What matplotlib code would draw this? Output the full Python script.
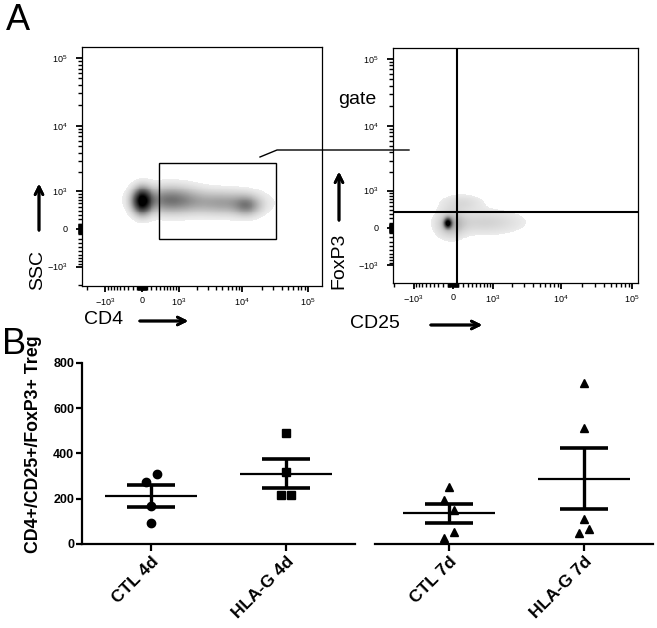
import numpy as np
import matplotlib.pyplot as plt
from matplotlib.colors import LinearSegmentedColormap
from matplotlib.lines import Line2D
from matplotlib.patches import Rectangle
from matplotlib.ticker import FixedLocator, NullFormatter

plt.rcParams['font.family'] = ['Liberation Sans', 'DejaVu Sans']
plt.rcParams['mathtext.default'] = 'regular'

LW = 600  # linear width of the biexponential display

# ---- panel A data ----
flow_ticks = [-1e3, 0, 1e3, 1e4, 1e5]
flow_ticklabels = ['$-10^3$', '0', '$10^3$', '$10^4$', '$10^5$']

cd4_lim = [-2430, 165000]
ssc_lim = [-2050, 146000]
cd25_lim = [-2065, 122000]
foxp3_lim = [-1945, 146000]

gate_cd4 = [380, 33000]
gate_ssc = [-210, 2800]

quad_cd25 = 78
quad_foxp3 = 344

# populations seen in the density plots (centre, spread in asinh units, weight)
cd4_pop_x = [0, 690, 5500, 12000]
cd4_pop_y = [660, 690, 600, 520]
cd4_pop_sx = [0.22, 0.7, 0.8, 0.3]
cd4_pop_sy = [0.28, 0.3, 0.27, 0.22]
cd4_pop_w = [1.0, 0.46, 0.3, 0.28]

cd25_pop_x = [-100, -40, 745, 176]
cd25_pop_y = [100, 80, 120, 582]
cd25_pop_sx = [0.08, 0.3, 0.8, 0.45]
cd25_pop_sy = [0.11, 0.3, 0.27, 0.2]
cd25_pop_w = [1.0, 0.22, 0.12, 0.09]

# ---- panel B data ----
groups = ['CTL 4d', 'HLA-G 4d', 'CTL 7d', 'HLA-G 7d']
ctl_4d = [273, 309, 168, 94]
hlag_4d = [489, 317, 217, 217]
ctl_7d = [253, 194, 150, 54, 25]
hlag_7d = [710, 511, 110, 50, 65]
ctl_4d_dx = [-0.037, 0.044, 0, 0]
hlag_4d_dx = [0, 0, -0.037, 0.04]
ctl_7d_dx = [0, -0.037, 0.037, 0.037, -0.04]
hlag_7d_dx = [0, 0, 0, -0.04, 0.04]
y_ticks = [0, 200, 400, 600, 800]


def flow_axis(ax, xlim, ylim):
    ax.set_xscale('asinh', linear_width=LW)
    ax.set_yscale('asinh', linear_width=LW)
    ax.set_xlim(xlim)
    ax.set_ylim(ylim)
    minors = [s * k * 10 ** j for s in (-1, 1) for j in range(1, 5) for k in range(1, 10)]
    for axis in (ax.xaxis, ax.yaxis):
        axis.set_major_locator(FixedLocator(flow_ticks))
        axis.set_minor_locator(FixedLocator(minors))
        axis.set_minor_formatter(NullFormatter())
    ax.set_xticklabels(flow_ticklabels)
    ax.set_yticklabels(flow_ticklabels)
    ax.tick_params(which='major', length=4.5, width=1.3, labelsize=6.5)
    ax.tick_params(axis='y', which='major', pad=6)
    ax.tick_params(axis='x', which='major', pad=3)
    ax.tick_params(which='minor', length=3, width=1.0)
    for s in ax.spines.values():
        s.set_linewidth(0.9)


def density(ax, xlim, ylim, px, py, sx, sy, w, lightest):
    tx = np.linspace(np.arcsinh(xlim[0] / LW), np.arcsinh(xlim[1] / LW), 500)
    ty = np.linspace(np.arcsinh(ylim[0] / LW), np.arcsinh(ylim[1] / LW), 500)
    TX, TY = np.meshgrid(tx, ty)
    z = np.zeros_like(TX)
    for cx, cy, a, b, wt in zip(px, py, sx, sy, w):
        cx, cy = np.arcsinh(cx / LW), np.arcsinh(cy / LW)
        z += wt * np.exp(-((TX - cx) ** 2 / (2 * a ** 2) + (TY - cy) ** 2 / (2 * b ** 2)))
    z = np.ma.masked_less(z, 0.03)
    cmap = LinearSegmentedColormap.from_list('g', [(lightest,) * 3, (0.4,) * 3, (0, 0, 0)])
    ax.pcolormesh(LW * np.sinh(TX), LW * np.sinh(TY), z, cmap=cmap, vmin=0.03, vmax=1.0,
                  shading='auto', rasterized=True)


fig = plt.figure(figsize=(6.57, 6.28), dpi=100)

# ---- panel A, CD4 vs SSC ----
ax1 = fig.add_axes([0.1248, 0.5446, 0.3653, 0.3806])
flow_axis(ax1, cd4_lim, ssc_lim)
density(ax1, cd4_lim, ssc_lim, cd4_pop_x, cd4_pop_y, cd4_pop_sx, cd4_pop_sy, cd4_pop_w, 0.93)
ax1.add_patch(Rectangle((gate_cd4[0], gate_ssc[0]), gate_cd4[1] - gate_cd4[0],
                        gate_ssc[1] - gate_ssc[0], fill=False, ec='black', lw=1))

# ---- panel A, CD25 vs FoxP3 ----
ax2 = fig.add_axes([0.5982, 0.5494, 0.3729, 0.3742])
flow_axis(ax2, cd25_lim, foxp3_lim)
density(ax2, cd25_lim, foxp3_lim, cd25_pop_x, cd25_pop_y, cd25_pop_sx, cd25_pop_sy, cd25_pop_w, 0.92)
ax2.axvline(quad_cd25, color='black', lw=1.5)
ax2.axhline(quad_foxp3, color='black', lw=1.5)

# gate connector
fig.add_artist(Line2D([260 / 657, 277 / 657, 409 / 657], [1 - 157 / 628, 1 - 150 / 628, 1 - 150 / 628],
                      transform=fig.transFigure, color='black', lw=1))
fig.text(357 / 657, 1 - 100 / 628, 'gate', fontsize=14, ha='center', va='center')

# axis labels with arrows
fig.text(38 / 657, 1 - 270 / 628, 'SSC', fontsize=14, rotation=90, ha='center', va='center')
fig.text(339 / 657, 1 - 261 / 628, 'FoxP3', fontsize=14, rotation=90, ha='center', va='center')
fig.text(84 / 657, 1 - 319 / 628, 'CD4', fontsize=14, ha='left', va='center')
fig.text(350 / 657, 1 - 323 / 628, 'CD25', fontsize=14, ha='left', va='center')
arrow = dict(arrowstyle='->', lw=2, color='black', mutation_scale=14)
for (x0, y0), (x1, y1) in [((39, 233), (39, 181)), ((339, 223), (339, 169)),
                           ((137, 321), (191, 321)), ((428, 325), (485, 325))]:
    fig.add_artist(plt.annotate('', xy=(x1 / 657, 1 - y1 / 628), xytext=(x0 / 657, 1 - y0 / 628),
                                xycoords='figure fraction', arrowprops=arrow))

fig.text(18 / 657, 1 - 20 / 628, 'A', fontsize=26, ha='center', va='center')
fig.text(14 / 657, 1 - 345 / 628, 'B', fontsize=26, ha='center', va='center')

# ---- panel B ----
axb1 = fig.add_axes([82 / 657, 0.1338, 273 / 657, 0.2882])
axb2 = fig.add_axes([375 / 657, 0.1338, 278 / 657, 0.2882])
pairs = [(axb1, [ctl_4d, hlag_4d], [ctl_4d_dx, hlag_4d_dx], ['o', 's'], groups[:2], -0.511),
         (axb2, [ctl_7d, hlag_7d], [ctl_7d_dx, hlag_7d_dx], ['^', '^'], groups[2:], -0.548)]
for ax, sets, offs, marks, names, x0 in pairs:
    for i, (vals, dx, m) in enumerate(zip(sets, offs, marks)):
        vals = np.array(vals, dtype=float)
        mean = vals.mean()
        sem = vals.std(ddof=1) / np.sqrt(len(vals))
        ax.plot(i + np.array(dx), vals, m, color='black', ms=6 if m != 's' else 5.5, zorder=3)
        ax.hlines(mean, i - 0.34, i + 0.34, color='black', lw=1.6)
        ax.hlines([mean - sem, mean + sem], i - 0.175, i + 0.175, color='black', lw=2.6)
        ax.vlines(i, mean - sem, mean + sem, color='black', lw=2.4)
    ax.set_xlim(x0, 1.511)
    ax.set_ylim(0, 800)
    ax.set_xticks([0, 1])
    ax.set_xticklabels(names, rotation=45, ha='right', va='top', rotation_mode='anchor',
                       fontsize=12.5, fontweight='bold')
    ax.spines['top'].set_visible(False)
    ax.spines['right'].set_visible(False)
    ax.spines['bottom'].set_linewidth(1.6)
    ax.spines['left'].set_linewidth(1.6)
    ax.tick_params(axis='x', length=5, width=1.6, pad=2)

axb1.set_yticks(y_ticks)
axb1.set_yticklabels([str(v) for v in y_ticks], fontsize=9, fontweight='bold')
axb1.tick_params(axis='y', length=4, width=1.6, pad=1.5)
axb1.set_ylabel('CD4+/CD25+/FoxP3+ Treg', fontsize=12.8, fontweight='bold')
axb1.yaxis.set_label_coords(-0.1465, 0.552)
axb2.spines['left'].set_visible(False)
axb2.set_yticks([])

fig.savefig('out.png', dpi=100)
